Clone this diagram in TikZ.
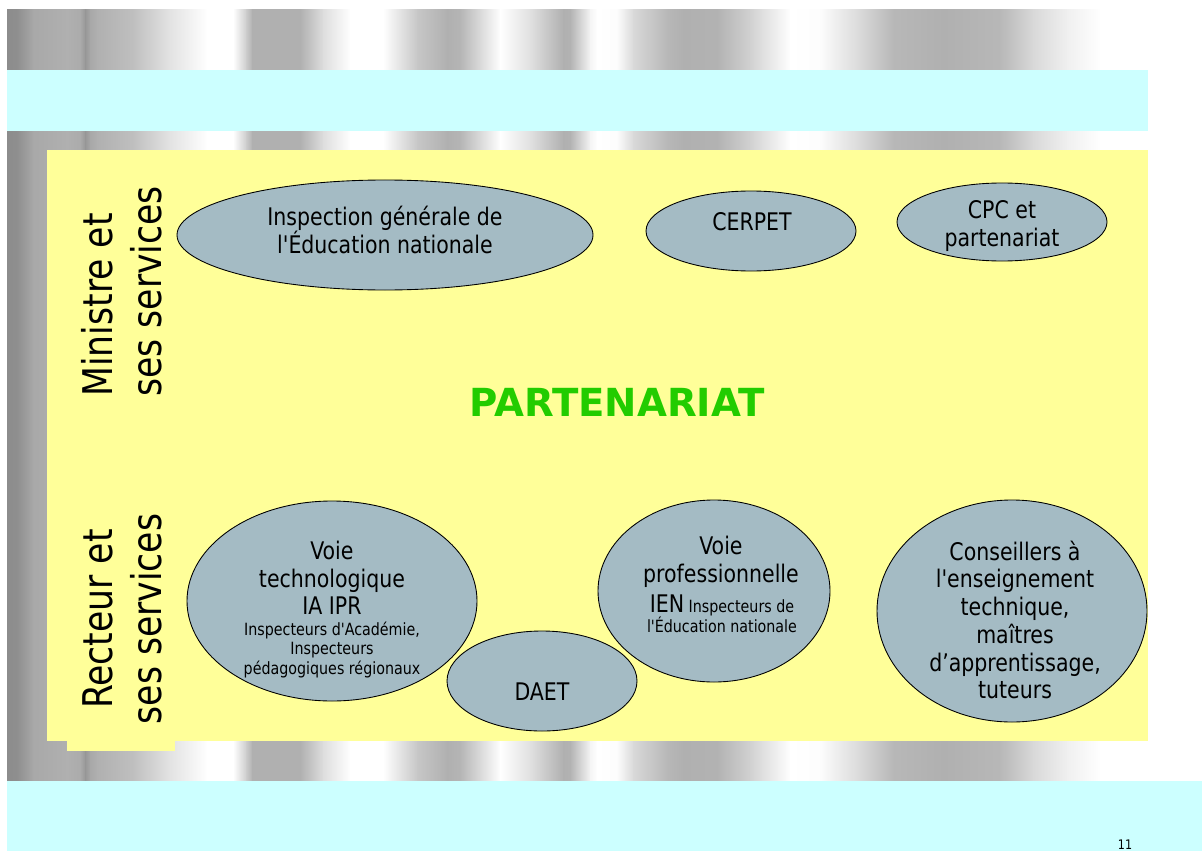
\documentclass[tikz,border=0pt]{standalone}
\usepackage{fontspec}
\setmainfont{DejaVu Sans Condensed}[Ligatures=TeXOff, FakeStretch=0.94]
\newfontfamily\widesans{DejaVu Sans}
\definecolor{slidecyan}{HTML}{CCFFFF}
\definecolor{slideyellow}{HTML}{FFFF99}
\definecolor{bubblegray}{HTML}{A4BBC4}
\definecolor{partgreen}{HTML}{22CC00}
\def\bubble(#1)(#2:#3){\draw[bubble] (#1) ellipse [x radius=#2, y radius=#3];}

\begin{document}
\begin{tikzpicture}[x=0.02cm, y=-0.02cm,
	bubble/.style={fill=bubblegray, draw=black, line width=0.5pt},
	txt/.style={align=center, inner sep=0pt, font=\fontsize{13.8}{15.8}\selectfont},
	smalltxt/.style={align=center, inner sep=0pt, font=\fontsize{9.6}{11.3}\selectfont},
	side/.style={rotate=90, inner sep=0pt, font=\fontsize{23.3}{27.8}\selectfont}]
			%%%%% START %%%%%
			\useasboundingbox (0, 0) rectangle (1202, 851);
			
			% chrome bands, one strip per pair of stops
			\foreach \x/\g [remember=\x as \lx (initially 7), remember=\g as \lg (initially 55)] in
				{17/56, 33/66, 67/69, 80/67, 85/59, 90/66, 97/69, 133/75, 167/88, 207/100,
				 233/100, 246/80, 252/69, 300/69, 323/87, 350/100, 383/100, 417/78, 447/69,
				 460/71, 500/100, 530/88, 563/69, 570/70, 590/96, 597/100, 617/99, 633/85,
				 667/72, 683/69, 717/70, 750/82, 790/100, 820/99, 860/85, 893/72, 943/69,
				 1000/72, 1033/85, 1067/94, 1100/100, 1148/100}
			{
				\fill[left color=white!\lg!black, right color=white!\g!black] (\lx, 10) rectangle (\x+0.8, 70);
				\fill[left color=white!\lg!black, right color=white!\g!black] (\lx, 131) rectangle (\x+0.8, 781);
			}
			
			\fill[slidecyan] (7, 70) rectangle (1148, 131);
			\fill[slidecyan] (7, 781) rectangle (1202, 851);
			
			\fill[slideyellow] (47, 150) rectangle (1148, 741);
			\fill[slideyellow] (67, 741) rectangle (175, 751);
			
			% side titles
			\node[side, align=left, anchor=west] (ministre) at (122, 397) {Ministre et\\ses services};
			\node[side, align=center] (recteur) at (122, 619) {Recteur et\\ses services};
			
			% top row
			\bubble(385, 235)(208:55);
			\node[txt] (igen) at (385, 230) {Inspection générale de\\l'Éducation nationale};
			\bubble(751, 231)(105:40);
			\node[txt] (cerpet) at (752, 222) {CERPET};
			\bubble(1002, 222)(105:39);
			\node[txt] (cpc) at (1002, 226) {CPC et\\partenariat};
			
			\node[font=\widesans\bfseries\fontsize{22}{26}\selectfont, text=partgreen, inner sep=0pt] (partenariat) at (617, 402) {PARTENARIAT};
			
			% bottom row
			\bubble(332, 601)(145:100);
			\node[txt] (vtech) at (332, 578) {Voie\\technologique\\IA IPR};
			\node[smalltxt] (vtechsub) at (332, 650) {Inspecteurs d'Académie,\\Inspecteurs\\pédagogiques régionaux};
			
			\bubble(714, 591)(116:91);
			\node[txt] (vpro) at (721, 562) {Voie\\professionnelle};
			\node[smalltxt] (vprosub) at (722, 614) {{\fontsize{13.8}{15.8}\selectfont IEN} Inspecteurs de\\l'Éducation nationale};
			
			\bubble(1012, 611)(135:111);
			\node[txt] (conseil) at (1015, 620) {Conseillers à\\l'enseignement\\technique,\\maîtres\\d’apprentissage,\\tuteurs};
			
			\bubble(542, 681)(95:50);
			\node[txt] (daet) at (542, 692) {DAET};
			
			\node[font=\fontsize{7.5}{9}\selectfont, inner sep=0pt, anchor=south] (pagenum) at (1125, 850) {11};
			
			%%%%% END %%%%%
\end{tikzpicture}
\end{document}
